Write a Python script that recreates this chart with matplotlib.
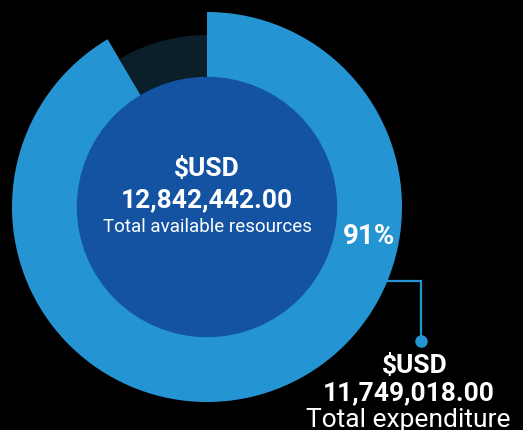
import matplotlib.pyplot as plt
from matplotlib.patches import Circle

plt.rcParams['font.family'] = ['Roboto', 'DejaVu Sans']

# data
total_available = 12842442.00
total_expenditure = 11749018.00
slice_values = [total_expenditure, total_available - total_expenditure]
slice_colors = ['#2594d3', '#0b1f2b']
center_lines = ['$USD', '12,842,442.00', 'Total available resources']
side_lines = ['$USD', '11,749,018.00', 'Total expenditure']
pct_label = '{:.0f}%'.format(100 * total_expenditure / total_available)

fig = plt.figure(figsize=(5.23, 4.30), dpi=100, facecolor='black')
ax = fig.add_axes([0, 0, 1, 1])
ax.set_facecolor('black')

cx, cy = 207, 207
# y axis is flipped (pixel coords), so start at -90 and go "counterclockwise"
wedges, _ = ax.pie(slice_values, colors=slice_colors, startangle=-90, counterclock=True,
                   center=(cx, cy), radius=195, frame=True)
# the remaining slice is drawn a bit smaller
wedges[1].set_radius(172)
ax.set_xlim(0, 523)
ax.set_ylim(430, 0)
ax.set_aspect('equal')
ax.axis('off')

ax.add_patch(Circle((cx, cy), 129.5, color='#1453a1', zorder=3))

# centre labels
ax.text(cx, 176, center_lines[0], color='white', fontsize=19, fontweight='bold',
        ha='center', va='baseline', zorder=4)
ax.text(cx, 207, center_lines[1], color='white', fontsize=19, fontweight='bold',
        ha='center', va='baseline', zorder=4)
ax.text(cx, 232, center_lines[2], color='white', fontsize=13.5,
        ha='center', va='baseline', zorder=4)

ax.text(369, 244, pct_label, color='white', fontsize=20, fontweight='bold',
        ha='center', va='baseline', zorder=4)

# connector line to the side label
ax.plot([387, 421, 421], [281, 281, 341], color='#2594d3', lw=1.6, zorder=2,
        solid_joinstyle='miter')
ax.plot([421], [341], 'o', color='#2594d3', markersize=8, zorder=2)

ax.text(415, 373, side_lines[0], color='white', fontsize=19, fontweight='bold',
        ha='center', va='baseline')
ax.text(409, 400, side_lines[1], color='white', fontsize=19, fontweight='bold',
        ha='center', va='baseline')
ax.text(408, 427, side_lines[2], color='white', fontsize=19,
        ha='center', va='baseline')

plt.savefig('out.png', dpi=100, facecolor='black')
